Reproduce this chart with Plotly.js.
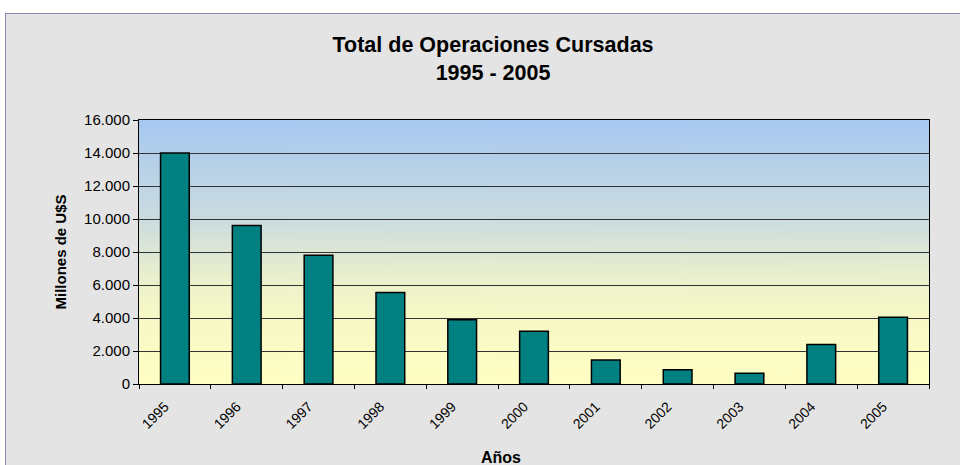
<!DOCTYPE html>
<html>
<head>
<meta charset="utf-8">
<script src="https://cdn.plot.ly/plotly-3.0.1.min.js"></script>
<style>
  html, body { margin: 0; padding: 0; background: #ffffff; width: 960px; height: 465px; overflow: hidden; }
  #frame { position: absolute; left: 5px; top: 13px; width: 955px; height: 452px;
           border-left: 1px solid #8c8cac; border-top: 1px solid #8c8cac; background: #e4e4e4; }
  #chart { width: 955px; height: 452px; }
</style>
</head>
<body>
<div id="frame"><div id="chart"></div></div>
<script>
// Data
var years = ['1995', '1996', '1997', '1998', '1999', '2000', '2001', '2002', '2003', '2004', '2005'];
var operaciones = [14000, 9600, 7800, 5550, 3900, 3200, 1450, 870, 650, 2400, 4050];
var yTickValues = [0, 2000, 4000, 6000, 8000, 10000, 12000, 14000, 16000];
var yTickLabels = ['0', '2.000', '4.000', '6.000', '8.000', '10.000', '12.000', '14.000', '16.000'];
var chartTitle = '<b>Total de Operaciones Cursadas<br>1995 - 2005</b>';
var xTitle = '<b>Años</b>';
var yTitle = '<b>Millones de U$S</b>';

// Vertical gradient for the plot area background
function gradientImage() {
  var c = document.createElement('canvas');
  c.width = 8; c.height = 400;
  var ctx = c.getContext('2d');
  var g = ctx.createLinearGradient(0, 0, 0, 400);
  g.addColorStop(0.0, '#a6c8f0');
  g.addColorStop(0.375, '#cbdce0');
  g.addColorStop(0.5, '#dde7d4');
  g.addColorStop(0.625, '#eef3cb');
  g.addColorStop(0.75, '#f7f8c6');
  g.addColorStop(1.0, '#ffffc4');
  ctx.fillStyle = g;
  ctx.fillRect(0, 0, 8, 400);
  return c.toDataURL('image/png');
}

var trace = {
  type: 'bar',
  x: years,
  y: operaciones,
  marker: { color: '#008080', line: { color: '#000000', width: 1.5 } },
  hoverinfo: 'x+y'
};

var font = "'Liberation Sans', Arial, sans-serif";

var layout = {
  width: 955,
  height: 452,
  margin: { l: 133, r: 32, t: 106, b: 82 },
  paper_bgcolor: '#e4e4e4',
  plot_bgcolor: 'rgba(0,0,0,0)',
  separators: ',.',
  bargap: 0.6,
  showlegend: false,
  font: { family: font, color: '#000000' },
  title: {
    text: chartTitle,
    font: { family: font, size: 21.5, color: '#000000' },
    x: 0.51, xanchor: 'center', xref: 'container',
    y: 0.915, yanchor: 'top', yref: 'container'
  },
  xaxis: {
    type: 'category',
    tickson: 'boundaries',
    ticks: 'outside', ticklen: 4, tickcolor: '#000000', tickwidth: 1,
    tickangle: -45,
    ticklabelstandoff: 8,
    ticklabelshift: -10,
    tickfont: { family: font, size: 14, color: '#000000' },
    showline: true, linecolor: '#000000', linewidth: 1, mirror: true,
    showgrid: false,
    fixedrange: true
  },
  yaxis: {
    range: [0, 16000],
    tickmode: 'array',
    tickvals: yTickValues,
    ticktext: yTickLabels,
    ticks: 'outside', ticklen: 5, tickcolor: '#000000', tickwidth: 1,
    tickfont: { family: font, size: 15, color: '#000000' },
    showline: true, linecolor: '#000000', linewidth: 1, mirror: true,
    showgrid: true, gridcolor: '#333333', gridwidth: 1,
    zeroline: false,
    title: { text: yTitle, font: { family: font, size: 15, color: '#000000' }, standoff: 13 },
    fixedrange: true
  },
  annotations: [{
    text: xTitle,
    xref: 'paper', yref: 'paper',
    x: 0.458, y: -0.278,
    xanchor: 'center', yanchor: 'middle',
    showarrow: false,
    font: { family: font, size: 16, color: '#000000' }
  }],
  images: [{
    source: gradientImage(),
    xref: 'paper', yref: 'paper',
    x: 0, y: 1, sizex: 1, sizey: 1,
    xanchor: 'left', yanchor: 'top',
    sizing: 'stretch', layer: 'below'
  }]
};

Plotly.newPlot('chart', [trace], layout, { displayModeBar: false, staticPlot: true });
</script>
</body>
</html>
